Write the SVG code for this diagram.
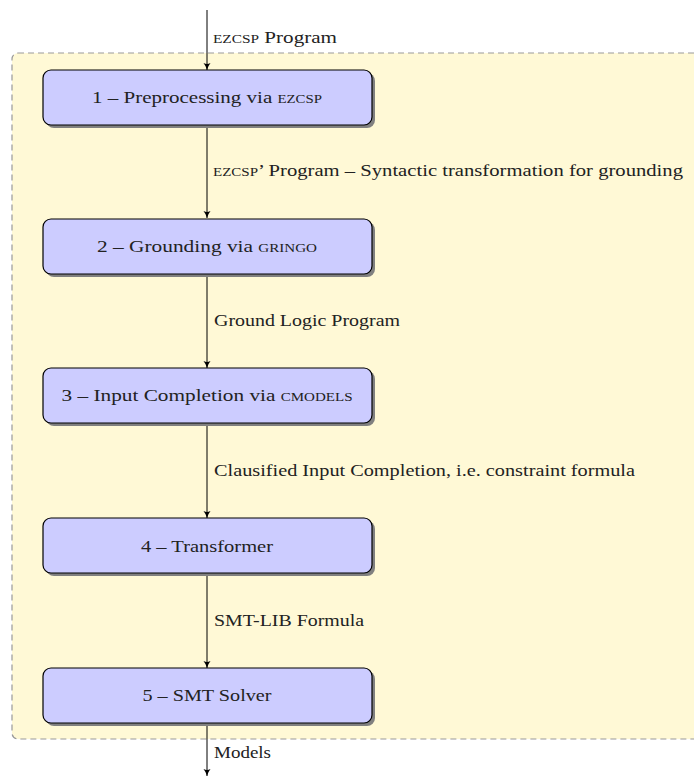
<svg xmlns="http://www.w3.org/2000/svg" width="694" height="780" viewBox="0 0 694 780">
<defs>
<marker id="ah" markerWidth="10" markerHeight="10" refX="8" refY="5" orient="auto" markerUnits="userSpaceOnUse">
<path d="M1,1.5 Q4,4 8,5 Q4,6 1,8.5 Q3,5 1,1.5 Z" fill="#000"/>
</marker>
<style>
.n{fill:#ccccff;stroke:#000;stroke-width:1.2}
.sh{fill:#808080}
.t{font-family:"Liberation Serif","DejaVu Serif",serif;font-size:17px;fill:#222;text-anchor:middle}
.l{font-family:"Liberation Serif","DejaVu Serif",serif;font-size:16.5px;fill:#222}
.sc{font-variant:small-caps}
.c{stroke:#000;stroke-width:1;fill:none;marker-end:url(#ah)}
</style>
</defs>
<rect x="0" y="0" width="694" height="780" fill="#fff"/>
<g id="bg">
<rect x="12" y="53" width="700" height="686" rx="6" fill="#fff9d6" stroke="#999" stroke-width="1.2" stroke-dasharray="6,4"/>
</g>
<g id="connectors">
<line class="c" x1="207" y1="10" x2="207" y2="70"/>
<line class="c" x1="207" y1="125" x2="207" y2="218"/>
<line class="c" x1="207" y1="274" x2="207" y2="368"/>
<line class="c" x1="207" y1="423" x2="207" y2="518"/>
<line class="c" x1="207" y1="573" x2="207" y2="668"/>
<line class="c" x1="207" y1="723" x2="207" y2="776"/>
<text class="l" x="213" y="43" textLength="124" lengthAdjust="spacingAndGlyphs"><tspan class="sc">ezcsp</tspan> Program</text>
<text class="l" x="213" y="176" textLength="470" lengthAdjust="spacingAndGlyphs"><tspan class="sc">ezcsp</tspan>’ Program – Syntactic transformation for grounding</text>
<text class="l" x="214" y="326" textLength="186" lengthAdjust="spacingAndGlyphs">Ground Logic Program</text>
<text class="l" x="214" y="476" textLength="421" lengthAdjust="spacingAndGlyphs">Clausified Input Completion, i.e. constraint formula</text>
<text class="l" x="214" y="626" textLength="150" lengthAdjust="spacingAndGlyphs">SMT-LIB Formula</text>
<text class="l" x="214" y="758" textLength="57" lengthAdjust="spacingAndGlyphs">Models</text>
</g>
<g id="n1">
<rect class="sh" x="46" y="73" width="329" height="55" rx="8"/>
<rect class="n" x="43" y="70" width="329" height="55" rx="8"/>
<text class="t" x="207" y="103" textLength="230" lengthAdjust="spacingAndGlyphs">1 – Preprocessing via <tspan class="sc">ezcsp</tspan></text>
</g>
<g id="n2">
<rect class="sh" x="46" y="222" width="329" height="55" rx="8"/>
<rect class="n" x="43" y="219" width="329" height="55" rx="8"/>
<text class="t" x="207" y="252" textLength="220" lengthAdjust="spacingAndGlyphs">2 – Grounding via <tspan class="sc">gringo</tspan></text>
</g>
<g id="n3">
<rect class="sh" x="46" y="371" width="329" height="55" rx="8"/>
<rect class="n" x="43" y="368" width="329" height="55" rx="8"/>
<text class="t" x="207" y="401" textLength="291" lengthAdjust="spacingAndGlyphs">3 – Input Completion via <tspan class="sc">cmodels</tspan></text>
</g>
<g id="n4">
<rect class="sh" x="46" y="521" width="329" height="55" rx="8"/>
<rect class="n" x="43" y="518" width="329" height="55" rx="8"/>
<text class="t" x="207" y="552" textLength="132" lengthAdjust="spacingAndGlyphs">4 – Transformer</text>
</g>
<g id="n5">
<rect class="sh" x="46" y="671" width="329" height="55" rx="8"/>
<rect class="n" x="43" y="668" width="329" height="55" rx="8"/>
<text class="t" x="207" y="701" textLength="129" lengthAdjust="spacingAndGlyphs">5 – SMT Solver</text>
</g>
</svg>
